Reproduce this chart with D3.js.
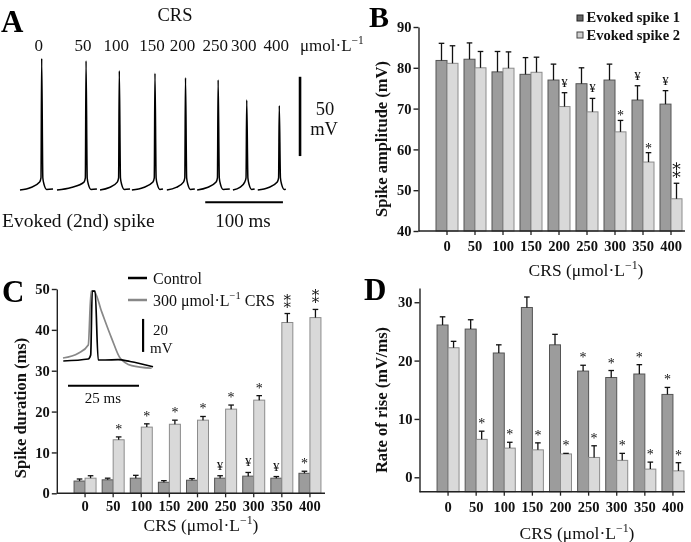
<!DOCTYPE html>
<html><head><meta charset="utf-8">
<script src="https://cdn.jsdelivr.net/npm/d3@7"></script>
<style>
body{margin:0;background:#fff;}
svg{display:block;opacity:0.999;will-change:transform;}
svg text{font-family:"Liberation Serif","Tinos","Times New Roman","DejaVu Serif",serif;}
</style></head><body>
<svg id="chart" width="691" height="542"></svg>
<script>
// ---------- data ----------
const concentrations = ["0","50","100","150","200","250","300","350","400"];

// Panel B: spike amplitude (mV)
const ampSpike1    = [81.8,82.1,79.0,78.4,77.0,76.1,77.0,72.1,71.1];
const ampSpike1Err = [4.2,4.0,5.0,4.1,3.9,3.9,3.9,3.5,3.3];
const ampSpike2    = [81.1,80.0,79.9,78.9,70.5,69.2,64.3,56.9,47.9];
const ampSpike2Err = [4.3,4.0,4.0,3.7,3.4,3.3,2.8,2.3,3.8];
const ampMarks1 = ["","","","","","","","¥","¥"];
const ampMarks2 = ["","","","","¥","¥","*","*","**"];
const ampTicks = [40,50,60,70,80,90];

// Panel C: spike duration (ms)
const durSpike1    = [3.0,3.3,3.7,2.7,3.2,3.7,4.2,3.7,4.9];
const durSpike1Err = [0.5,0.4,0.7,0.4,0.4,0.6,0.9,0.4,0.5];
const durSpike2    = [3.7,13.1,16.2,16.9,17.9,20.6,22.8,41.8,43.0];
const durSpike2Err = [0.6,0.7,0.8,1.0,0.9,1.0,1.1,2.2,2.0];
const durMarks1 = ["","","","","","¥","¥","¥","*"];
const durMarks2 = ["","*","*","*","*","*","*","**","**"];
const durTicks = [0,10,20,30,40,50];

// Panel D: rate of rise (mV/ms)
const riseSpike1    = [26.1,25.4,21.3,29.1,22.7,18.2,17.1,17.7,14.2];
const riseSpike1Err = [1.4,1.6,1.4,1.8,1.8,1.0,1.2,1.6,1.2];
const riseSpike2    = [22.2,6.5,5.0,4.7,4.0,3.4,2.9,1.4,1.1];
const riseSpike2Err = [1.1,1.4,1.0,1.2,0.1,2.0,1.2,1.2,1.4];
const riseMarks1 = ["","","","","","*","*","*","*"];
const riseMarks2 = ["","*","*","*","*","*","*","*","*"];
const riseTicks = [0,10,20,30];

// Panel A: evoked (2nd) spike traces, [time ms, membrane mV]
const spikeLabels = ["0","50","100","150","200","250","300","400"];
const spikeTimes  = [27.9,85,127.8,173.7,213,255,291.8,333.7];
const spikeTraces = [
 [[0,-70],[14,-68.4],[25.3,-65],[27,-62.4],[27.9,13],[29.4,-62.4],[31.1,-66.8],[34.3,-69.7],[42.5,-69.4]],
 [[47.6,-70],[66,-68.4],[82.4,-65],[84.1,-62.4],[85,11.5],[86.5,-62.4],[88.2,-66.8],[91.4,-69.7],[99,-69.4]],
 [[103,-70],[115,-68.4],[125.2,-65],[126.9,-62.4],[127.8,5.2],[129.3,-62.4],[131,-66.8],[134.2,-69.7],[141.6,-69.4]],
 [[144,-70],[159,-68.4],[171.1,-65],[172.8,-62.4],[173.7,3.6],[175.2,-62.4],[176.9,-66.8],[180.1,-69.7],[184,-69.4]],
 [[189,-70],[201,-68.4],[210.4,-65],[212.1,-62.4],[213,0.8],[214.5,-62.4],[216.2,-66.8],[219.4,-69.7],[225,-69.4]],
 [[228,-70],[241,-68.4],[252.4,-65],[254.1,-62.4],[255,-0.6],[256.5,-62.4],[258.2,-66.8],[261.4,-69.7],[270,-69.4]],
 [[274,-70],[283,-68.4],[289.2,-65],[290.9,-62.4],[291.8,-13.3],[293.3,-62.4],[295,-66.8],[298.2,-69.7],[302,-69.4]],
 [[306,-70],[320,-68.4],[331.1,-65],[332.8,-62.4],[333.7,-16.8],[335.2,-62.4],[336.9,-66.8],[340.1,-69.7],[342,-69.4]]
];

// Panel C inset traces, [time ms, mV]
const insetControl = [[0.1,-60],[8.9,-58.8],[9.75,-56.4],[10.3,-17.6],[11.3,-17.6],[12.4,-59.4],[14.8,-59.4],[19.4,-59.2],[23.6,-60.3],[31.7,-63.5]];
const insetCRS     = [[0,-58.2],[5.4,-55.3],[8.9,-50.3],[9.9,-17.6],[10.9,-17.6],[13.6,-30.1],[17.1,-46.1],[20.1,-58.2],[24.2,-62.8],[31.2,-64.4]];

// ---------- drawing ----------
const FONT = "'Liberation Serif', Tinos, 'Times New Roman', 'DejaVu Serif', serif";
const svg = d3.select("#chart").attr("font-family", FONT);
const DARK = "#9c9c9c", DARK_STROKE = "#555", LIGHT = "#d9d9d9", LIGHT_STROKE = "#8c8c8c";

function txt(g, x, y, size) {
  return g.append("text").attr("x", x).attr("y", y).attr("font-size", size)
    .attr("font-family", FONT).attr("fill", "#111");
}
function panelLetter(t, x, y, size) {
  txt(svg, x, y, size || 31).attr("font-weight", "bold").attr("fill", "#000").text(t);
}
function crsTitle(g, x, y, size) {
  const t = txt(g, x, y, size).attr("text-anchor", "middle");
  t.append("tspan").text("CRS (μmol·L");
  t.append("tspan").attr("font-size", size * 0.68).attr("dy", -7).text("−1");
  t.append("tspan").attr("dy", 7).text(")");
}

function barPanel(o) {
  const g = svg.append("g");
  const x = d3.scaleBand().domain(concentrations).range(o.xRange);
  const y = d3.scaleLinear().domain(o.yDomain).range(o.yRange);
  const base = y(o.yDomain[0]);
  const bw = 11;
  const series = [
    {vals: o.s1, err: o.e1, marks: o.m1, fill: DARK, stroke: DARK_STROKE, off: -bw},
    {vals: o.s2, err: o.e2, marks: o.m2, fill: LIGHT, stroke: LIGHT_STROKE, off: 0}
  ];
  const cx = c => x(c) + x.bandwidth() / 2;
  series.forEach(s => {
    const sg = g.append("g");
    sg.selectAll("rect").data(concentrations).join("rect")
      .attr("x", (c) => cx(c) + s.off)
      .attr("width", bw)
      .attr("y", (c, i) => y(s.vals[i]))
      .attr("height", (c, i) => base - y(s.vals[i]))
      .attr("fill", s.fill).attr("stroke", s.stroke).attr("stroke-width", 1);
    sg.selectAll("line.eb").data(concentrations).join("line").attr("class", "eb")
      .attr("x1", c => cx(c) + s.off + bw / 2).attr("x2", c => cx(c) + s.off + bw / 2)
      .attr("y1", (c, i) => y(s.vals[i])).attr("y2", (c, i) => y(s.vals[i] + s.err[i]))
      .attr("stroke", "#111").attr("stroke-width", 1.3);
    sg.selectAll("line.cap").data(concentrations).join("line").attr("class", "cap")
      .attr("x1", c => cx(c) + s.off + bw / 2 - 2.8).attr("x2", c => cx(c) + s.off + bw / 2 + 2.8)
      .attr("y1", (c, i) => y(s.vals[i] + s.err[i])).attr("y2", (c, i) => y(s.vals[i] + s.err[i]))
      .attr("stroke", "#111").attr("stroke-width", 1.3);
    concentrations.forEach((c, i) => {
      const m = s.marks[i];
      if (!m) return;
      const mx = cx(c) + s.off + bw / 2;
      const top = y(s.vals[i] + s.err[i]);
      if (m === "¥") {
        txt(g, mx, top - 6, 13).attr("text-anchor", "middle").text("¥");
      } else if (m === "*") {
        txt(g, mx, top + o.starShift, 14).attr("text-anchor", "middle").text("*");
      } else {
        // two asterisks aligned vertically (U+2051)
        txt(g, mx, top + o.dblShift, o.dblSize).attr("text-anchor", "middle").text("\u2051");
      }
    });
  });
  // y axis
  const ya = g.append("g").attr("transform", `translate(${o.yAxisX},0)`)
    .call(d3.axisLeft(y).tickValues(o.ticks).tickSize(5).tickPadding(2).tickSizeOuter(0));
  ya.attr("font-family", FONT);
  ya.select(".domain").attr("stroke", "#222").attr("stroke-width", 1.4);
  ya.selectAll(".tick line").attr("stroke", "#222").attr("stroke-width", 1.4);
  ya.selectAll(".tick text").attr("font-family", FONT).attr("font-size", 14.5).attr("font-weight", "bold").attr("fill", "#111");
  // x axis
  const xa = g.append("g").attr("transform", `translate(0,${base})`)
    .call(d3.axisBottom(x).tickSize(4).tickPadding(o.xPad).tickSizeOuter(0));
  xa.attr("font-family", FONT);
  xa.select(".domain").remove();
  xa.selectAll(".tick line").attr("stroke", "#222").attr("stroke-width", 1.3);
  xa.selectAll(".tick text").attr("font-family", FONT).attr("font-size", 14.5).attr("font-weight", "bold").attr("fill", "#111");
  g.append("line").attr("x1", o.yAxisX).attr("x2", o.xEnd).attr("y1", base).attr("y2", base)
    .attr("stroke", "#222").attr("stroke-width", 1.4);
  // titles
  txt(g, 0, 0, 16.5).attr("x", null).attr("y", null)
    .attr("transform", `translate(${o.yTitle[0]},${o.yTitle[1]}) rotate(-90)`)
    .attr("text-anchor", "middle").attr("dy", "0.35em").attr("font-weight", "bold")
    .text(o.yLabel);
  crsTitle(g, o.xTitle[0], o.xTitle[1], 17.5);
  return g;
}

// Panel B
barPanel({
  xRange: [433, 685], yDomain: [40, 90], yRange: [231, 27], yAxisX: 418.5, xEnd: 685,
  s1: ampSpike1, e1: ampSpike1Err, m1: ampMarks1, s2: ampSpike2, e2: ampSpike2Err, m2: ampMarks2,
  ticks: ampTicks, yLabel: "Spike amplitude (mV)", yTitle: [381.5, 139], xTitle: [586, 276],
  xPad: 6, starShift: 0, dblSize: 17, dblShift: -5
});
const legB = svg.append("g");
[["Evoked spike 1", "#666", "#222"], ["Evoked spike 2", "#cfcfcf", "#444"]].forEach((d, i) => {
  legB.append("rect").attr("x", 577).attr("y", 15 + i * 17).attr("width", 6).attr("height", 6)
    .attr("fill", d[1]).attr("stroke", d[2]).attr("stroke-width", 1);
  txt(legB, 586.5, 21.5 + i * 18.5, 14.5).attr("font-weight", "bold").text(d[0]);
});
panelLetter("B", 369, 26.5, 30);

// Panel C
barPanel({
  xRange: [71, 324], yDomain: [0, 50], yRange: [493.3, 289], yAxisX: 56.8, xEnd: 325,
  s1: durSpike1, e1: durSpike1Err, m1: durMarks1, s2: durSpike2, e2: durSpike2Err, m2: durMarks2,
  ticks: durTicks, yLabel: "Spike duration (ms)", yTitle: [20.5, 408], xTitle: [201, 531],
  xPad: 3, starShift: -3, dblSize: 15, dblShift: -6
});
panelLetter("C", 2, 302);

// Panel D
barPanel({
  xRange: [434, 687], yDomain: [-2.47, 32.44], yRange: [491.7, 288], yAxisX: 419.5, xEnd: 685,
  s1: riseSpike1, e1: riseSpike1Err, m1: riseMarks1, s2: riseSpike2, e2: riseSpike2Err, m2: riseMarks2,
  ticks: riseTicks, yLabel: "Rate of rise (mV/ms)", yTitle: [381.5, 400], xTitle: [577, 539],
  xPad: 6, starShift: -3, dblSize: 15, dblShift: -6
});
panelLetter("D", 364, 300);

// Panel A traces
const gA = svg.append("g");
const xA = d3.scaleLinear().domain([0, 100]).range([20, 97.7]);
const yA = d3.scaleLinear().domain([-70, 0]).range([190, 79]);
const lineA = d3.line().x(d => xA(d[0])).y(d => yA(d[1])).curve(d3.curveMonotoneX);
gA.selectAll("path.tr").data(spikeTraces).join("path").attr("class", "tr")
  .attr("d", lineA).attr("fill", "none").attr("stroke", "#000").attr("stroke-width", 1.5);
spikeLabels.forEach((d, i) => {
  txt(gA, xA(spikeTimes[i]) - 3, 51, 17).attr("text-anchor", "middle").text(d);
});
const unitA = txt(gA, 300, 51, 17);
unitA.append("tspan").text("μmol·L");
unitA.append("tspan").attr("font-size", 11.5).attr("dy", -7).text("−1");
txt(gA, 175, 21, 18.5).attr("text-anchor", "middle").text("CRS");
gA.append("line").attr("x1", xA(360.4)).attr("x2", xA(360.4)).attr("y1", yA(-48.6)).attr("y2", yA(1.4))
  .attr("stroke", "#000").attr("stroke-width", 2.6);
gA.append("line").attr("x1", xA(238.4)).attr("x2", xA(338.4)).attr("y1", yA(-77.8)).attr("y2", yA(-77.8))
  .attr("stroke", "#000").attr("stroke-width", 2);
txt(gA, 325, 115, 18.5).attr("text-anchor", "middle").text("50");
txt(gA, 324, 135, 18.5).attr("text-anchor", "middle").text("mV");
txt(gA, 243, 227, 19).attr("text-anchor", "middle").text("100 ms");
txt(gA, 2, 227, 19.5).text("Evoked (2nd) spike");
panelLetter("A", 1, 32);

// Panel C inset
const gI = svg.append("g");
const xI = d3.scaleLinear().domain([0, 25]).range([63, 134]);
const yI = d3.scaleLinear().domain([-60, -40]).range([361, 328]);
const lineI = d3.line().x(d => xI(d[0])).y(d => yI(d[1])).curve(d3.curveMonotoneX);
gI.append("path").attr("d", lineI(insetCRS)).attr("fill", "none").attr("stroke", "#888").attr("stroke-width", 1.7);
gI.append("path").attr("d", lineI(insetControl)).attr("fill", "none").attr("stroke", "#000").attr("stroke-width", 1.7);
gI.append("line").attr("x1", xI(28.2)).attr("x2", xI(28.2)).attr("y1", yI(-54.5)).attr("y2", yI(-34.5))
  .attr("stroke", "#000").attr("stroke-width", 2.2);
gI.append("line").attr("x1", xI(1.76)).attr("x2", xI(26.76)).attr("y1", yI(-75)).attr("y2", yI(-75))
  .attr("stroke", "#000").attr("stroke-width", 2);
txt(gI, 153, 335, 15).text("20");
txt(gI, 150, 353, 15).text("mV");
txt(gI, 103, 403, 15).attr("text-anchor", "middle").text("25 ms");
gI.append("line").attr("x1", 128).attr("x2", 147).attr("y1", 278).attr("y2", 278).attr("stroke", "#000").attr("stroke-width", 2.5);
gI.append("line").attr("x1", 128).attr("x2", 147).attr("y1", 300).attr("y2", 300).attr("stroke", "#888").attr("stroke-width", 2.5);
txt(gI, 153, 283.5, 16).text("Control");
const lg2 = txt(gI, 153, 305.5, 16);
lg2.append("tspan").text("300 μmol·L");
lg2.append("tspan").attr("font-size", 10.5).attr("dy", -7).text("−1");
lg2.append("tspan").attr("dy", 7).text(" CRS");
</script>
</body></html>
